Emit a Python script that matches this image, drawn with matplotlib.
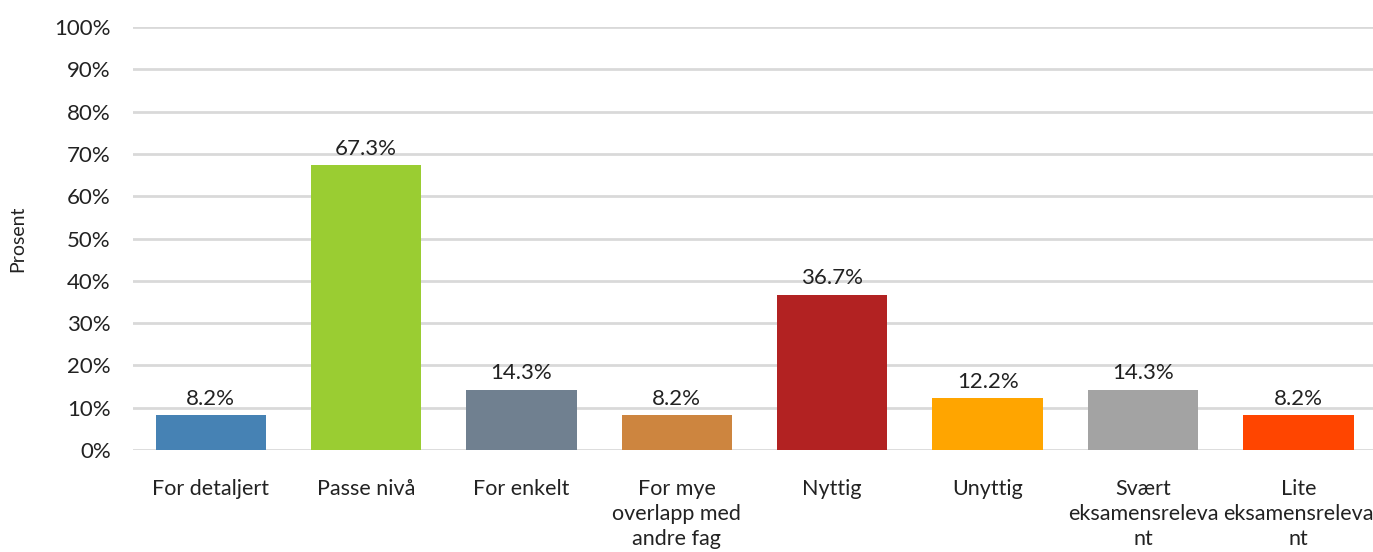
import matplotlib
matplotlib.use('Agg')
import matplotlib.pyplot as plt
from matplotlib.ticker import FuncFormatter

categories = ["For detaljert", "Passe nivå", "For enkelt", "For mye\noverlapp med\nandre fag",
              "Nyttig", "Unyttig", "Svært\neksamensreleva\nnt", "Lite\neksamensreleva\nnt"]
values = [8.2, 67.3, 14.3, 8.2, 36.7, 12.2, 14.3, 8.2]
colors = ["#4682B4", "#9ACD32", "#708090", "#CD853F", "#B22222", "#FFA500", "#A3A3A3", "#FF4500"]

plt.rcParams['font.family'] = ['Lato', 'DejaVu Sans']

fig = plt.figure(figsize=(13.73, 5.52), dpi=100)
ax = fig.add_axes([133 / 1373, 102 / 552, 1240 / 1373, 423 / 552])

x = range(len(categories))
ax.bar(x, values, width=0.71, color=colors, zorder=3)

for i, v in enumerate(values):
    ax.text(i, v + 1.6, f"{v:.1f}%", ha='center', va='bottom', fontsize=16, color='#222222')

ax.set_xlim(-0.5, 7.48)
ax.set_ylim(0, 100)
ax.set_yticks(range(0, 101, 10))
ax.yaxis.set_major_formatter(FuncFormatter(lambda v, p: f"{int(v)}%"))
ax.grid(axis='y', color='#D9D9D9', linewidth=2, zorder=0)
ax.set_xticks(list(x))
ax.set_xticklabels(categories, fontsize=15.5, color='#222222', linespacing=1.32)
ax.tick_params(axis='both', length=0, colors='#222222')
ax.tick_params(axis='y', labelsize=16, pad=16)
ax.tick_params(axis='x', pad=21)
for s in ax.spines.values():
    s.set_visible(False)

ax.set_ylabel("Prosent", fontsize=14, color='#222222')
ax.yaxis.set_label_coords(-0.086, 0.5)

fig.savefig("out.png", dpi=100)
